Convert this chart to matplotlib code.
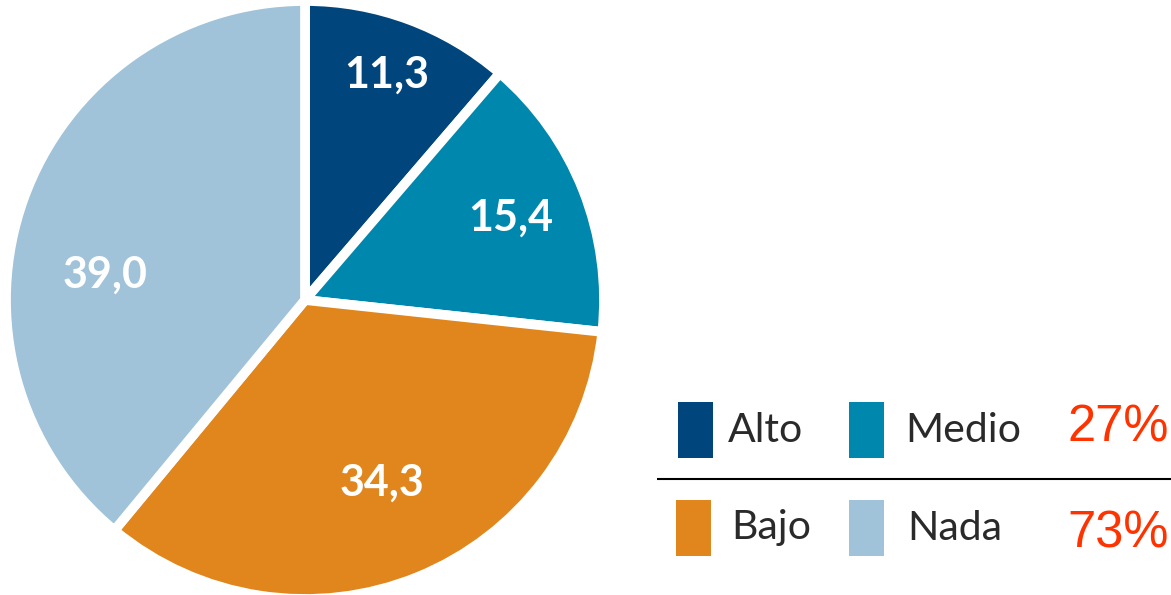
import matplotlib
matplotlib.use("Agg")
import matplotlib.pyplot as plt
from matplotlib.patches import Rectangle
import numpy as np

categories = ["Alto", "Medio", "Bajo", "Nada"]
values = [11.3, 15.4, 34.3, 39.0]
value_labels = ["11,3", "15,4", "34,3", "39,0"]
colors = ["#00467D", "#0087AD", "#E0861D", "#A0C3D9"]
group_labels = ["27%", "73%"]

W, H = 1171, 595
fig = plt.figure(figsize=(W / 100, H / 100), dpi=100)
ax = fig.add_axes([0, 0, 1, 1])

cx, cy, R = 305, H - 300, 299
wedges, _ = ax.pie(values, colors=colors, startangle=90, counterclock=False,
                   center=(cx, cy), radius=R, frame=True,
                   wedgeprops=dict(edgecolor="white", linewidth=7))
ax.set_xlim(0, W)
ax.set_ylim(0, H)
ax.set_aspect("equal")
ax.axis("off")

# value labels inside the wedges
label_pos = [(387, 75), (511, 218), (382, 483), (105, 275)]
for (x, y), t in zip(label_pos, value_labels):
    ax.text(x, H - y, t, color="white", fontsize=31, fontweight="bold",
            family="Lato", ha="center", va="center")

# legend
sq = [(678, 402), (849, 402), (676, 500), (849, 500)]
sq_w, sq_h = 35, 56
txt = [(728, 431), (905, 431), (731, 528), (907, 528)]
for (x, y), c in zip(sq, colors):
    ax.add_patch(Rectangle((x, H - y - sq_h), sq_w, sq_h, facecolor=c,
                           edgecolor="none"))
for (x, y), t in zip(txt, categories):
    ax.text(x, H - y, t, color="#2a2a2a", fontsize=29.5, family="Lato",
            ha="left", va="center")

ax.plot([657, W], [H - 479, H - 479], color="black", lw=1.5,
        solid_capstyle="butt")

for y, t in zip([428, 534], group_labels):
    ax.text(1169, H - y, t, color="#FF3300", fontsize=36.5,
            family="Liberation Sans", ha="right", va="center")

fig.savefig("out.png", dpi=100, facecolor="white")
